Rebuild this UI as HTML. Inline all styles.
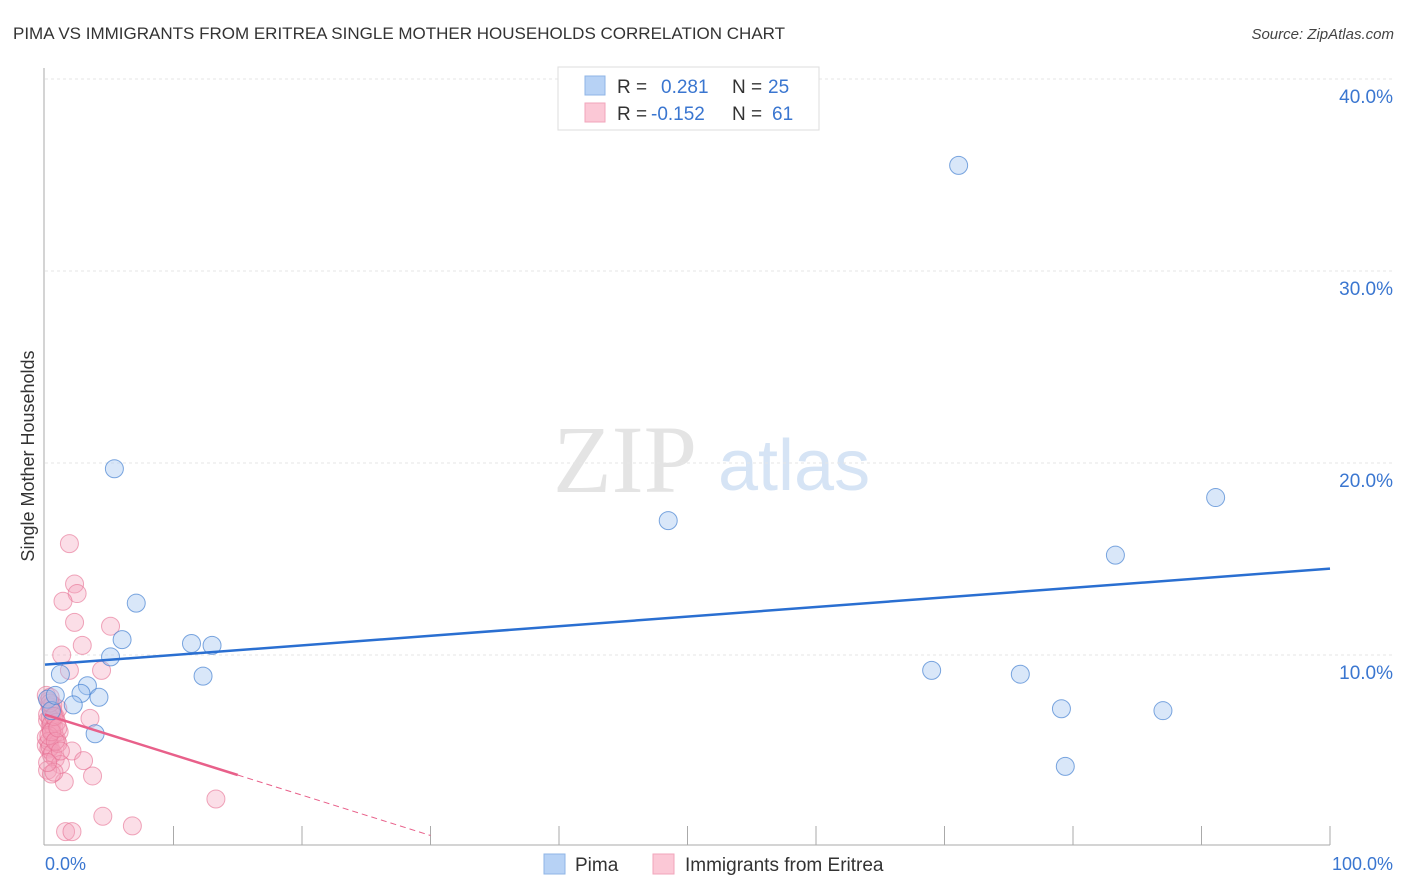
<!DOCTYPE html>
<html><head><meta charset="utf-8"><style>
body{margin:0;background:#fff;width:1406px;height:892px;overflow:hidden;font-family:"Liberation Sans",sans-serif}
svg{position:absolute;left:0;top:0}
</style></head><body>
<svg id="chart" width="1406" height="892"></svg>
<script>
const pimaX=[5.4,7.1,6.0,5.1,11.4,13.0,12.3,1.2,3.3,2.8,4.2,2.2,3.9,48.5,71.1,69.0,75.9,79.1,79.4,83.3,87.0,91.1,0.2,0.5,0.8];
const pimaY=[19.7,12.7,10.8,9.9,10.6,10.5,8.9,9.0,8.4,8.0,7.8,7.4,5.9,17.0,35.5,9.2,9.0,7.2,4.2,15.2,7.1,18.2,7.7,7.1,7.9];
const eriX=[1.9,2.3,2.5,1.4,2.3,5.1,2.9,1.3,1.9,4.4,3.5,2.1,3.0,3.7,1.5,4.5,6.8,13.3,1.6,2.1,
0.1,0.3,0.4,0.6,0.8,0.2,0.4,0.5,0.7,0.9,0.1,0.3,0.5,0.6,1.0,0.2,0.4,0.5,0.7,1.1,0.1,0.3,0.4,0.6,0.8,1.2,0.2,0.5,0.7,1.0,0.4,0.6,0.9,0.3,0.5,0.8,1.2,0.4,0.7,1.0,0.2];
const eriY=[15.8,13.7,13.2,12.8,11.7,11.5,10.5,10.0,9.2,9.2,6.7,5.0,4.5,3.7,3.4,1.6,1.1,2.5,0.8,0.8,
7.9,7.6,7.3,7.0,6.8,6.6,6.3,6.1,5.9,5.6,5.3,5.1,4.8,7.4,7.2,6.9,6.7,6.4,6.2,6.0,5.7,5.5,5.2,4.9,4.6,4.3,4.0,3.8,3.9,5.4,7.8,7.1,6.5,5.8,6.0,5.5,5.0,7.5,6.8,6.2,4.4];
const xTicks=["0.0%","100.0%"];
const yTicks=[10,20,30,40];
const pimaLine=[9.5,14.5];
const eriLine=[6.9,-0.21];

const svg=document.getElementById('chart');
const NS='http://www.w3.org/2000/svg';
const X=v=>45+v*12.85, Y=v=>847-v*19.2;
function mk(t,a,p){const e=document.createElementNS(NS,t);for(const k in a)e.setAttribute(k,a[k]);(p||svg).appendChild(e);return e;}

let t=mk('text',{x:13,y:39,'font-size':17,fill:'#333'});t.textContent='PIMA VS IMMIGRANTS FROM ERITREA SINGLE MOTHER HOUSEHOLDS CORRELATION CHART';

t=mk('text',{x:1394,y:39,'font-size':15,fill:'#444','font-style':'italic','text-anchor':'end'});t.textContent='Source: ZipAtlas.com';


t=mk('text',{x:553,y:492,'font-size':96,fill:'#e4e4e4','font-family':'Liberation Serif, serif'});t.textContent='ZIP';

t=mk('text',{x:718,y:490,'font-size':72,fill:'#d6e4f5'});t.textContent='atlas';


yTicks.forEach(v=>{
 const g=mk('line',{x1:45,x2:1395,y1:Y(v),y2:Y(v),stroke:'#e6e6e6','stroke-dasharray':'3,3'});
 
 const l=mk('text',{x:1393,y:Y(v)+24,'font-size':19,fill:'#3a76d0','text-anchor':'end'});l.textContent=v.toFixed(1)+'%';
 
});
let a=mk('line',{x1:44,x2:44,y1:68,y2:845,stroke:'#aaa'});
a=mk('line',{x1:44,x2:1330,y1:845,y2:845,stroke:'#aaa'});
for(let i=1;i<=10;i++){const k=mk('line',{x1:X(i*10),x2:X(i*10),y1:826,y2:845,stroke:'#aaa'});}
t=mk('text',{x:45,y:870,'font-size':18,fill:'#3a76d0'});t.textContent=xTicks[0];
t=mk('text',{x:1393,y:870,'font-size':18,fill:'#3a76d0','text-anchor':'end'});t.textContent=xTicks[1];
t=mk('text',{x:34,y:456,'font-size':18,fill:'#333','text-anchor':'middle',transform:'rotate(-90 34 456)'});t.textContent='Single Mother Households';


eriX.forEach((x,i)=>{const c=mk('circle',{cx:X(x),cy:Y(eriY[i]),r:9,fill:'rgba(244,160,185,0.35)',stroke:'rgba(230,110,145,0.6)','stroke-width':1});
 });
pimaX.forEach((x,i)=>{const c=mk('circle',{cx:X(x),cy:Y(pimaY[i]),r:9,fill:'rgba(160,195,240,0.4)',stroke:'rgba(70,130,210,0.7)','stroke-width':1});
 });

let ln=mk('line',{x1:X(0),y1:Y(pimaLine[0]),x2:X(100),y2:Y(pimaLine[1]),stroke:'#2a6fd1','stroke-width':2.5});

ln=mk('line',{x1:X(0),y1:Y(eriLine[0]),x2:X(15),y2:Y(eriLine[0]+eriLine[1]*15),stroke:'#e8608a','stroke-width':2.5});

ln=mk('line',{x1:X(15),y1:Y(eriLine[0]+eriLine[1]*15),x2:X(30),y2:Y(eriLine[0]+eriLine[1]*30),stroke:'#e8608a','stroke-width':1,'stroke-dasharray':'6,4'});


const lg=mk('g',{});
mk('rect',{x:558,y:67,width:261,height:63,fill:'#fff',stroke:'#ddd'},lg);
mk('rect',{x:585,y:76,width:20,height:19,fill:'#b7d2f5',stroke:'#8fb4e6'},lg);
mk('rect',{x:585,y:103,width:20,height:19,fill:'#fbc8d6',stroke:'#f2a5bb'},lg);
[['R = ',617,93,'#333'],['0.281',661,93,'#3a76d0'],['N = ',732,93,'#333'],['25',768,93,'#3a76d0'],
 ['R = ',617,120,'#333'],['-0.152',651,120,'#3a76d0'],['N = ',732,120,'#333'],['61',772,120,'#3a76d0']].forEach(d=>{
 const e=mk('text',{x:d[1],y:d[2],'font-size':19,fill:d[3]},lg);e.textContent=d[0];});

const bl=mk('g',{});
mk('rect',{x:544,y:854,width:21,height:20,fill:'#b7d2f5',stroke:'#8fb4e6'},bl);
let e=mk('text',{x:575,y:871,'font-size':19,fill:'#333'},bl);e.textContent='Pima';
mk('rect',{x:653,y:854,width:21,height:20,fill:'#fbc8d6',stroke:'#f2a5bb'},bl);
e=mk('text',{x:685,y:871,'font-size':19,fill:'#333'},bl);e.textContent='Immigrants from Eritrea';
</script>
</body></html>
